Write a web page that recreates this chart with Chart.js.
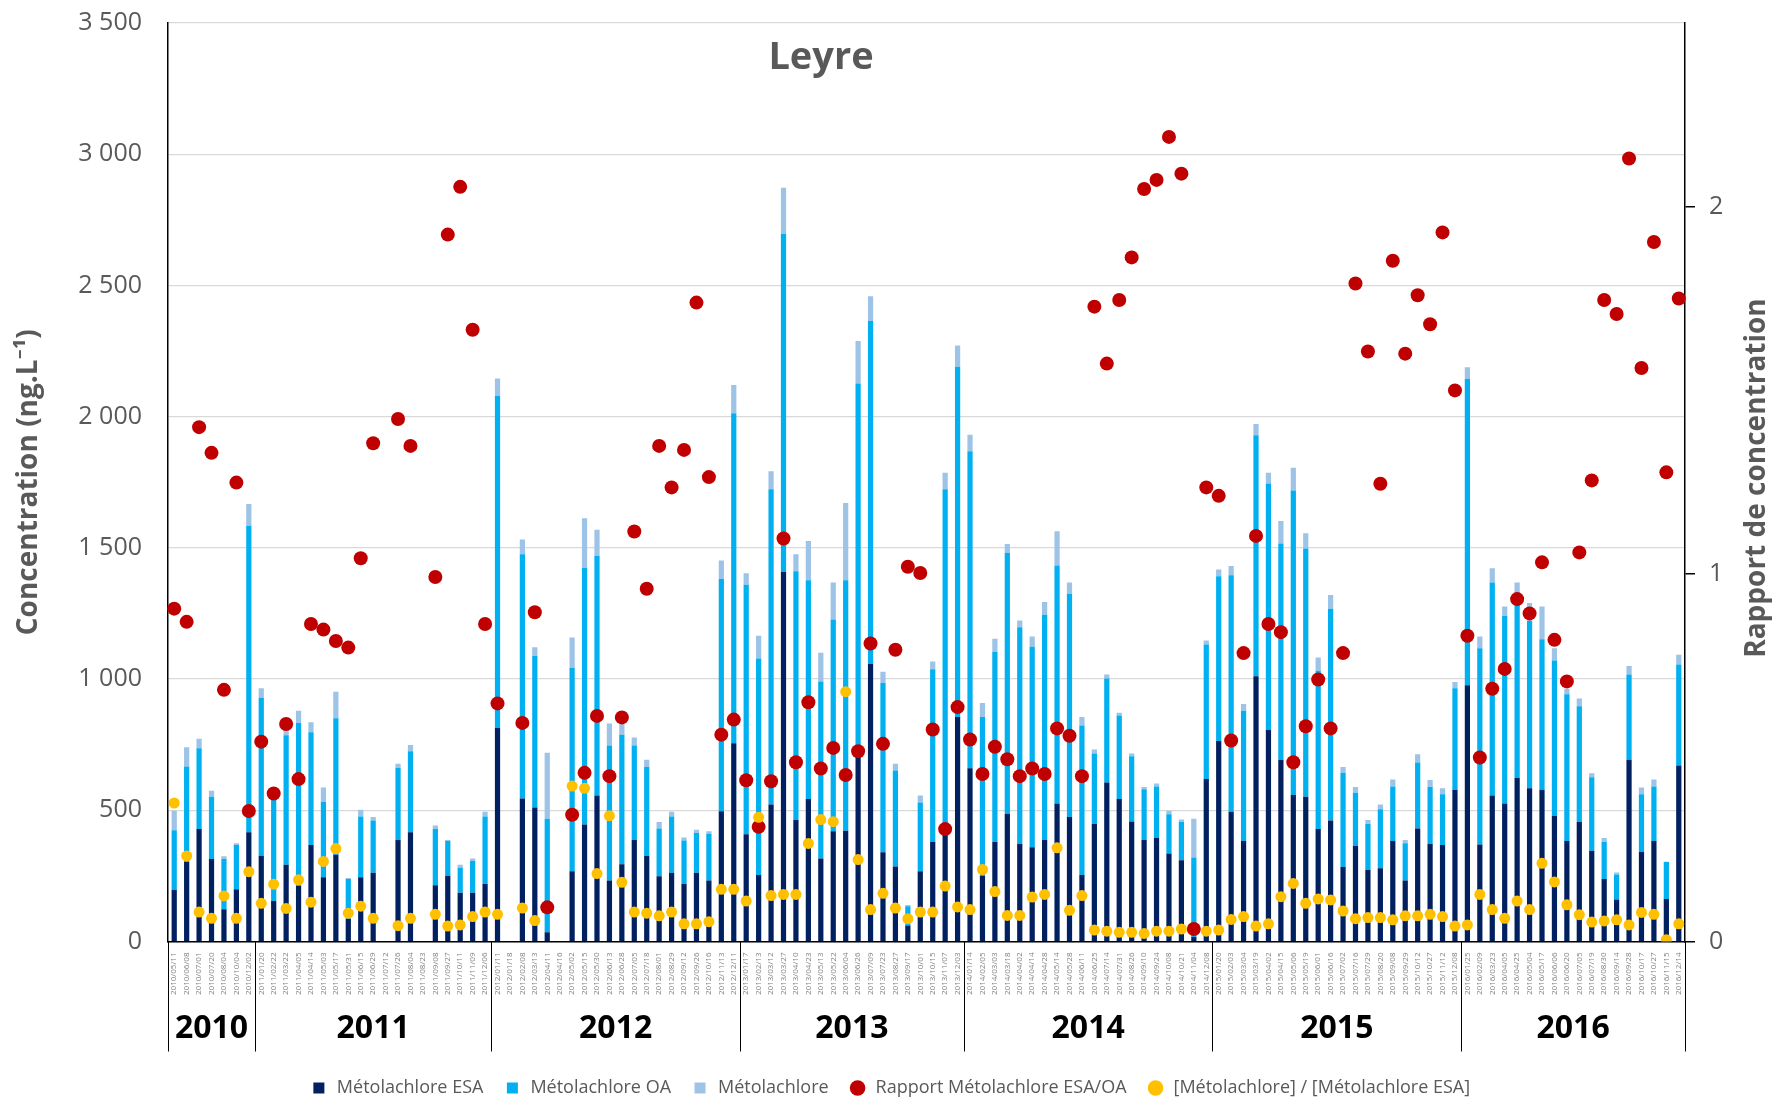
<!DOCTYPE html>
<html>
<head>
<meta charset="utf-8">
<script src="https://cdn.jsdelivr.net/npm/chart.js@4.4.1/dist/chart.umd.min.js"></script>
<style>
  html, body { margin: 0; padding: 0; background: #fff; }
  canvas { display: block; }
</style>
</head>
<body>
<canvas id="myChart" width="1780" height="1101"></canvas>
<script>
/* Sampling dates */
const dates = [
  "2010/05/11", "2010/06/08", "2010/07/01", "2010/07/20", "2010/08/04", "2010/10/04", "2010/12/02",
  "2011/01/20", "2011/02/22", "2011/03/22", "2011/04/05", "2011/04/14", "2011/05/03", "2011/05/17",
  "2011/05/31", "2011/06/15", "2011/06/29", "2011/07/12", "2011/07/26", "2011/08/04", "2011/08/23",
  "2011/09/08", "2011/09/27", "2011/10/11", "2011/11/09", "2011/12/06",
  "2012/01/11", "2012/01/18", "2012/02/08", "2012/03/13", "2012/04/11", "2012/04/16", "2012/05/02",
  "2012/05/15", "2012/05/30", "2012/06/13", "2012/06/28", "2012/07/05", "2012/07/18", "2012/08/01",
  "2012/08/29", "2012/09/12", "2012/09/26", "2012/10/16", "2012/11/13", "2012/12/11",
  "2013/01/17", "2013/02/13", "2013/03/12", "2013/03/27", "2013/04/10", "2013/04/23", "2013/05/13",
  "2013/05/22", "2013/06/04", "2013/06/26", "2013/07/09", "2013/07/23", "2013/08/27", "2013/09/17",
  "2013/10/01", "2013/10/15", "2013/11/07", "2013/12/03",
  "2014/01/14", "2014/02/05", "2014/03/03", "2014/03/18", "2014/04/02", "2014/04/14", "2014/04/28",
  "2014/05/14", "2014/05/28", "2014/06/11", "2014/06/25", "2014/07/14", "2014/07/31", "2014/08/26",
  "2014/09/10", "2014/09/24", "2014/10/08", "2014/10/21", "2014/11/04", "2014/12/08",
  "2015/01/20", "2015/02/03", "2015/03/04", "2015/03/19", "2015/04/02", "2015/04/15", "2015/05/06",
  "2015/05/19", "2015/06/01", "2015/06/16", "2015/07/02", "2015/07/16", "2015/07/29", "2015/08/20",
  "2015/09/08", "2015/09/29", "2015/10/12", "2015/10/27", "2015/11/12", "2015/12/08",
  "2016/01/25", "2016/02/09", "2016/03/23", "2016/04/05", "2016/04/25", "2016/05/04", "2016/05/17",
  "2016/06/06", "2016/06/20", "2016/07/05", "2016/07/19", "2016/08/30", "2016/09/14", "2016/09/28",
  "2016/10/17", "2016/10/27", "2016/11/15", "2016/12/14",
];

/* Concentrations (ng/L) */
const esa = [
  197, 303, 429, 314, 123, 199, 416,
  327, 154, 292, 212, 368, 245, 331, 87, 245, 262, null, 387, 416, null, 214, 251, 186, 186, 219,
  814, null, 545, 511, 35, null, 268, 446, 556, 232, 294, 387, 327, 249, 262, 219, 262, 232, 496, 755,
  409, 253, 522, 1409, 463, 543, 316, 420, 422, 708, 1058, 340, 286, 61, 268, 379, 411, 855,
  660, 251, 379, 487, 372, 359, 387, 526, 474, 253, 448, 606, 543, 457, 387, 394, 335, 310, 17, 619,
  764, 494, 383, 1011, 807, 693, 558, 552, 429, 461, 284, 364, 273, 279, 383, 232, 431, 372, 368, 578,
  976, 370, 556, 526, 623, 584, 578, 478, 383, 455, 346, 238, 160, 693, 342, 383, 162, 671,
];
const oa = [
  227, 364, 307, 238, 191, 169, 1168,
  602, 385, 494, 621, 429, 287, 520, 151, 231, 199, null, 275, 309, null, 215, 132, 95, 121, 257,
  1266, null, 931, 578, 433, null, 775, 978, 914, 515, 494, 360, 338, 182, 214, 166, 151, 179, 885, 1258,
  950, 825, 1201, 1288, 948, 834, 675, 807, 955, 1418, 1306, 645, 366, 73, 262, 658, 1312, 1335,
  1208, 604, 725, 994, 825, 764, 858, 907, 851, 570, 268, 396, 318, 249, 193, 197, 150, 145, 303, 513,
  628, 902, 496, 918, 938, 824, 1161, 946, 603, 807, 359, 203, 175, 225, 208, 142, 251, 217, 193, 387,
  1167, 747, 812, 714, 706, 637, 574, 593, 559, 441, 280, 141, 95, 324, 219, 208, 141, 385,
];
const metolachlore = [
  74, 73, 37, 22, 11, 6, 83,
  36, 20, 21, 46, 38, 55, 101, 4, 26, 13, null, 15, 24, null, 13, 4, 11, 9, 18,
  65, null, 56, 32, 251, null, 115, 189, 99, 84, 41, 30, 28, 24, 18, 11, 13, 9, 71, 108,
  44, 87, 69, 175, 65, 149, 109, 141, 294, 162, 95, 43, 25, 5, 26, 30, 63, 81,
  63, 54, 50, 34, 26, 39, 49, 130, 43, 32, 16, 15, 11, 10, 9, 11, 13, 10, 148, 15,
  26, 35, 26, 43, 41, 85, 86, 58, 50, 52, 22, 22, 15, 18, 26, 13, 32, 26, 23, 24,
  45, 45, 54, 37, 39, 69, 125, 46, 21, 30, 15, 15, 8, 33, 26, 26, 1, 37,
];

/* Ratios (right axis) */
const ratioEsaOa = [
  0.906, 0.87, 1.40, 1.33, 0.685, 1.249, 0.355,
  0.544, 0.403, 0.592, 0.442, 0.864, 0.849, 0.818, 0.80, 1.043, 1.356, null, 1.422, 1.349, null, 0.992, 1.924, 2.054, 1.665, 0.864,
  0.648, null, 0.595, 0.896, 0.093, null, 0.345, 0.459, 0.614, 0.45, 0.61, 1.116, 0.96, 1.349, 1.236, 1.338, 1.739, 1.264, 0.563, 0.604,
  0.439, 0.312, 0.436, 1.097, 0.488, 0.651, 0.471, 0.527, 0.453, 0.518, 0.811, 0.538, 0.794, 1.02, 1.003, 0.577, 0.306, 0.638,
  0.55, 0.456, 0.53, 0.496, 0.45, 0.471, 0.456, 0.58, 0.56, 0.45, 1.728, 1.573, 1.746, 1.862, 2.048, 2.073, 2.19, 2.09, 0.034, 1.236,
  1.213, 0.547, 0.785, 1.104, 0.864, 0.842, 0.488, 0.586, 0.713, 0.58, 0.785, 1.791, 1.606, 1.246, 1.853, 1.6, 1.759, 1.68, 1.93, 1.50,
  0.832, 0.501, 0.688, 0.742, 0.932, 0.893, 1.032, 0.821, 0.708, 1.059, 1.255, 1.746, 1.708, 2.131, 1.561, 1.904, 1.277, 1.75,
];
const ratioMetoEsa = [
  0.377, 0.233, 0.08, 0.063, 0.124, 0.063, 0.19,
  0.104, 0.156, 0.09, 0.168, 0.107, 0.218, 0.253, 0.077, 0.096, 0.063, null, 0.043, 0.063, null, 0.074, 0.042, 0.045, 0.068, 0.08,
  0.074, null, 0.091, 0.057, null, null, 0.423, 0.417, 0.185, 0.342, 0.161, 0.08, 0.077, 0.07, 0.08, 0.048, 0.048, 0.054, 0.142, 0.142,
  0.11, 0.338, 0.125, 0.128, 0.128, 0.267, 0.332, 0.326, 0.68, 0.223, 0.087, 0.131, 0.091, 0.062, 0.08, 0.08, 0.151, 0.094,
  0.087, 0.196, 0.136, 0.071, 0.071, 0.121, 0.128, 0.255, 0.085, 0.125, 0.031, 0.028, 0.025, 0.025, 0.022, 0.028, 0.028, 0.034, null, 0.028,
  0.031, 0.06, 0.068, 0.042, 0.048, 0.122, 0.158, 0.104, 0.116, 0.113, 0.083, 0.062, 0.065, 0.065, 0.059, 0.07, 0.07, 0.074, 0.068, 0.042,
  0.045, 0.128, 0.087, 0.063, 0.11, 0.087, 0.213, 0.162, 0.1, 0.073, 0.053, 0.056, 0.059, 0.045, 0.079, 0.074, 0.005, 0.048,
];

const leftTicks = [0, 500, 1000, 1500, 2000, 2500, 3000, 3500];
const rightTicks = [0, 1, 2];

const grey = "#595959";
const FONT = "'Open Sans', 'Noto Sans', sans-serif";

const formatThousands = (v) =>
  v >= 1000 ? Math.floor(v / 1000) + " " + String(v % 1000).padStart(3, "0") : String(v);

/* year bands under the date labels + titles drawn by hand */
const yearBands = {
  id: "yearBands",
  afterDraw(chart) {
    const { ctx, chartArea } = chart;
    const x = chart.scales.x;
    const bandBottom = chartArea.bottom + 110;
    const edge = (i) => {
      if (i <= 0) return chartArea.left;
      if (i >= dates.length) return chartArea.right;
      return (x.getPixelForValue(i - 1) + x.getPixelForValue(i)) / 2;
    };
    const groups = [];
    dates.forEach((d, i) => {
      const y = d.slice(0, 4);
      if (!groups.length || groups[groups.length - 1].year !== y) groups.push({ year: y, start: i, end: i });
      else groups[groups.length - 1].end = i;
    });
    ctx.save();
    ctx.strokeStyle = "#000";
    ctx.lineWidth = 1;
    const lines = groups.map((g) => edge(g.start)).concat([edge(dates.length)]);
    lines.forEach((px) => {
      ctx.beginPath();
      ctx.moveTo(Math.round(px) + 0.5, chartArea.bottom);
      ctx.lineTo(Math.round(px) + 0.5, bandBottom);
      ctx.stroke();
    });
    ctx.fillStyle = "#000";
    ctx.font = "bold 32px " + FONT;
    ctx.textAlign = "center";
    ctx.textBaseline = "middle";
    groups.forEach((g) => {
      const cx = (edge(g.start) + edge(g.end + 1)) / 2;
      ctx.fillText(g.year, cx, chartArea.bottom + 87);
    });

    // title
    ctx.fillStyle = grey;
    ctx.font = "bold 38px " + FONT;
    ctx.fillText("Leyre", 821, 58);

    // right axis title, reading bottom to top
    ctx.translate(1757, 478);
    ctx.rotate(-Math.PI / 2);
    ctx.font = "bold 28px " + FONT;
    ctx.fillText("Rapport de concentration", 0, 0);
    ctx.restore();
  },
};

const ctx = document.getElementById("myChart");
new Chart(ctx, {
  type: "bar",
  data: {
    labels: dates,
    datasets: [
      {
        label: "Métolachlore ESA",
        data: esa,
        backgroundColor: "#002060",
        yAxisID: "y",
        stack: "conc",
        order: 2,
        pointStyle: "rect",
      },
      {
        label: "Métolachlore OA",
        data: oa,
        backgroundColor: "#00B0F0",
        yAxisID: "y",
        stack: "conc",
        order: 2,
        pointStyle: "rect",
      },
      {
        label: "Métolachlore",
        data: metolachlore,
        backgroundColor: "#9DC3E6",
        yAxisID: "y",
        stack: "conc",
        order: 2,
        pointStyle: "rect",
      },
      {
        type: "line",
        label: "Rapport Métolachlore ESA/OA",
        data: ratioEsaOa,
        yAxisID: "y1",
        showLine: false,
        pointRadius: 7,
        pointBorderWidth: 0,
        pointBackgroundColor: "#C00000",
        backgroundColor: "#C00000",
        borderColor: "#C00000",
        pointStyle: "circle",
        order: 1,
      },
      {
        type: "line",
        label: "[Métolachlore] / [Métolachlore ESA]",
        data: ratioMetoEsa,
        yAxisID: "y1",
        showLine: false,
        pointRadius: 5.5,
        pointBorderWidth: 0,
        pointBackgroundColor: "#FFC000",
        backgroundColor: "#FFC000",
        borderColor: "#FFC000",
        pointStyle: "circle",
        order: 0,
      },
    ],
  },
  options: {
    responsive: false,
    animation: false,
    devicePixelRatio: 1,
    layout: { padding: { top: 23, right: 0, bottom: -6, left: 0 } },
    datasets: {
      bar: { barPercentage: 0.42, categoryPercentage: 1, borderWidth: 0 },
    },
    scales: {
      x: {
        stacked: true,
        grid: { display: false },
        border: { display: true, color: "#000", width: 1.5 },
        ticks: {
          autoSkip: false,
          maxRotation: 90,
          minRotation: 90,
          padding: 3,
          color: "#7f7f7f",
          font: { family: FONT, size: 8 },
        },
        afterFit: (scale) => { scale.height = 117.5; },
      },
      y: {
        stacked: true,
        position: "left",
        min: 0,
        max: 3500,
        afterBuildTicks: (scale) => { scale.ticks = leftTicks.map((v) => ({ value: v })); },
        // invisible tick marks give the gap between labels and axis
        grid: { color: "#D9D9D9", lineWidth: 1.2, drawTicks: true, tickLength: 24, tickColor: "rgba(0,0,0,0)" },
        border: { display: true, color: "#000", width: 1.5 },
        ticks: {
          padding: 2,
          color: grey,
          font: { family: FONT, size: 25, lineHeight: 0.6 },
          callback: (v) => formatThousands(v),
        },
        title: {
          display: true,
          text: "Concentration (ng.L⁻¹)",
          color: grey,
          font: { family: FONT, size: 28, weight: "bold" },
          padding: { top: 12, bottom: 0 },
        },
        afterFit: (scale) => { scale.width = 168; },
      },
      y1: {
        position: "right",
        stacked: false,
        min: 0,
        max: 2.5,
        afterBuildTicks: (scale) => { scale.ticks = rightTicks.map((v) => ({ value: v })); },
        grid: { drawOnChartArea: false, color: "#000", tickColor: "#000", tickLength: 10, lineWidth: 1.5 },
        border: { display: true, color: "#000", width: 1.5 },
        ticks: {
          padding: 14,
          color: grey,
          font: { family: FONT, size: 25, lineHeight: 0.6 },
        },
        afterFit: (scale) => { scale.width = 95; },
      },
    },
    plugins: {
      legend: {
        display: true,
        position: "bottom",
        labels: {
          usePointStyle: true,
          boxHeight: 11,
          padding: 20,
          color: grey,
          font: { family: FONT, size: 18 },
          sort: (a, b) => a.datasetIndex - b.datasetIndex,
        },
      },
      tooltip: { enabled: false },
      title: { display: false },
    },
  },
  plugins: [yearBands],
});
</script>
</body>
</html>
